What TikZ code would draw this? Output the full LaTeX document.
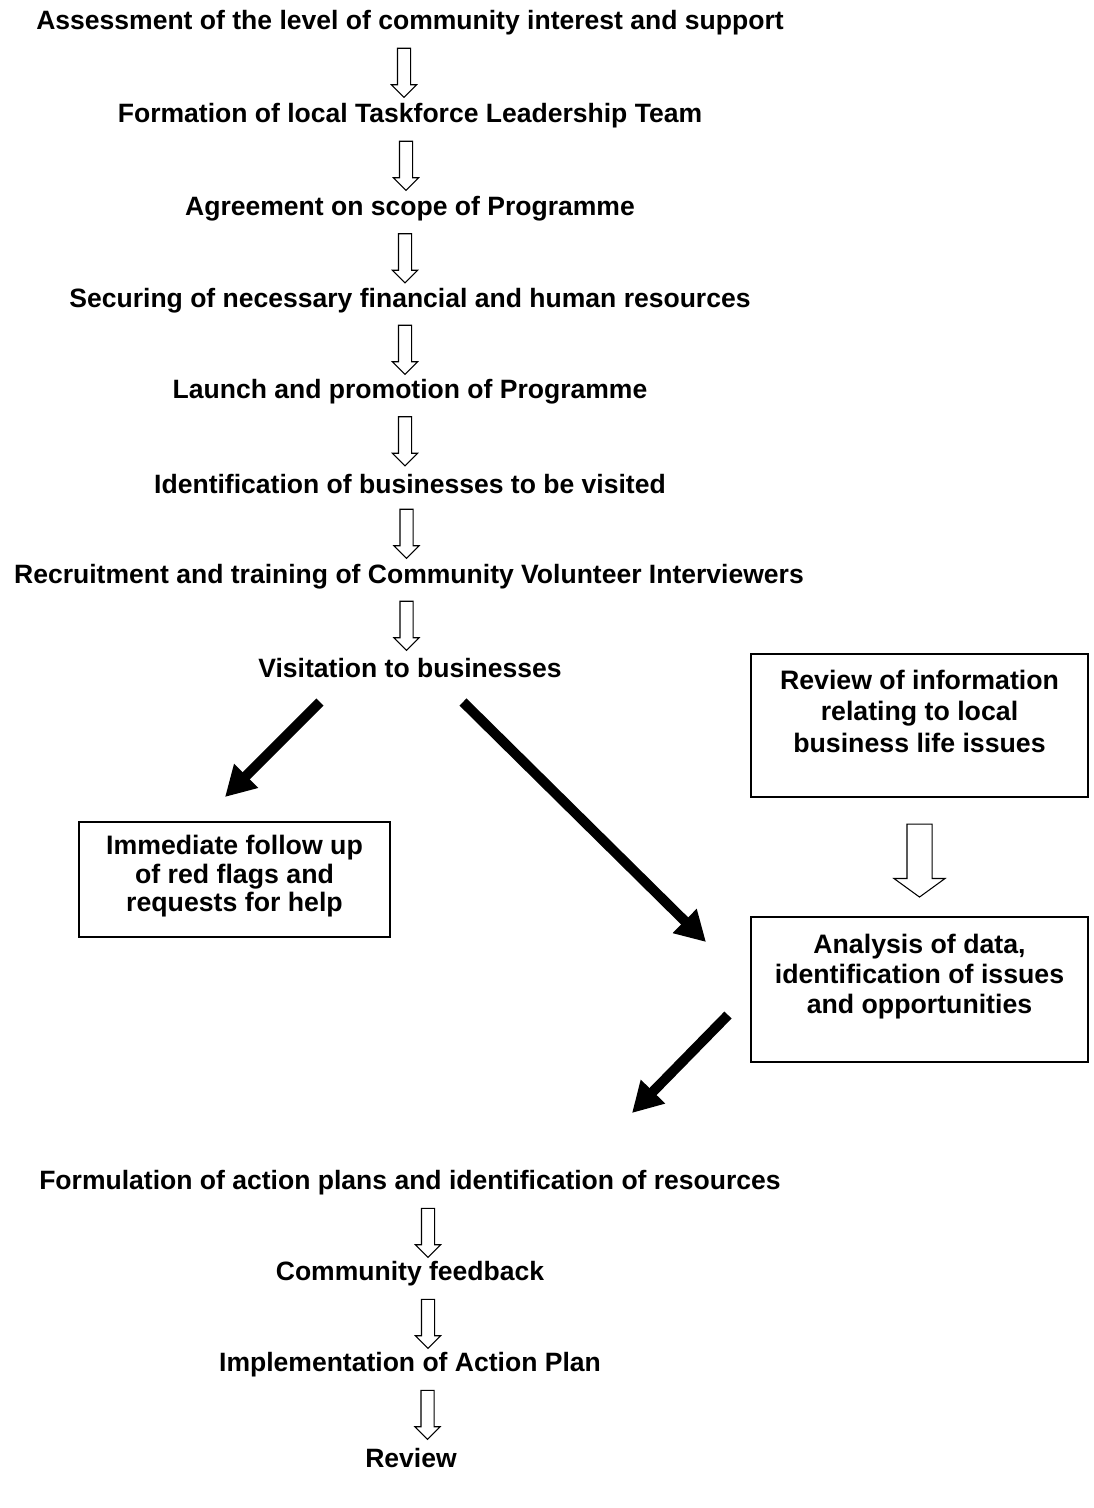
\documentclass[tikz,border=0pt]{standalone}
\usepackage{fontspec}
\setmainfont{Liberation Sans}
\usetikzlibrary{arrows.meta,shapes.arrows,calc}

\tikzset{
	stage/.style={font=\fontsize{15.1}{17}\selectfont\bfseries, inner sep=0pt},
	hollow/.style={single arrow, draw, semithick, rotate=-90, inner xsep=0pt, inner ysep=0.12cm,
		single arrow head extend=0.12cm, single arrow head indent=0pt, minimum height=0.98cm},
	bighollow/.style={hollow, inner ysep=0.24cm, single arrow head extend=0.26cm,
		single arrow tip angle=108, minimum height=1.46cm},
	blackarrow/.style={line width=0.2cm, -{Triangle[length=0.6cm,width=0.64cm]}},
	infobox/.style={draw, thick, inner sep=0pt, font=\fontsize{15.2}{17}\selectfont\bfseries}
}

\begin{document}
\begin{tikzpicture}[x=0.02cm,y=-0.02cm]
	
	\useasboundingbox (0,0) rectangle (1093,1508);
	
	% steps down the middle
	\node [stage] (assess) at (410,23) {Assessment of the level of community interest and support};
	\node [stage] (formation) at (410,116) {Formation of local Taskforce Leadership Team};
	\node [stage] (scope) at (410,209) {Agreement on scope of Programme};
	\node [stage] (securing) at (410,301) {Securing of necessary financial and human resources};
	\node [stage] (launch) at (410,392) {Launch and promotion of Programme};
	\node [stage] (identify) at (410,484) {Identification of businesses to be visited};
	\node [stage] (recruit) at (409,577) {Recruitment and training of Community Volunteer Interviewers};
	\node [stage] (visit) at (410,668) {Visitation to businesses};
	
	\node [hollow] (a1) at ($(assess)!0.5!(formation)+(-6,0)$) {};
	\node [hollow] (a2) at ($(formation)!0.5!(scope)+(-4,0)$) {};
	\node [hollow] (a3) at ($(scope)!0.5!(securing)+(-5,0)$) {};
	\node [hollow] (a4) at ($(securing)!0.5!(launch)+(-5,0)$) {};
	\node [hollow] (a5) at ($(launch)!0.5!(identify)+(-5,0)$) {};
	\node [hollow] (a6) at ($(identify)!0.5!(recruit)+(-3,0)$) {};
	\node [hollow] (a7) at ($(recruit)!0.5!(visit)+(-3,0)$) {};
	
	% boxes
	\node [infobox, font=\fontsize{15.2}{16.3}\selectfont\bfseries] (followup) at (234.5,879.5) {\parbox[c][2.3cm][t]{6.22cm}{\centering\vspace{0.26cm}Immediate follow up\\ of red flags and\\ requests for help}};
	\node [infobox, font=\fontsize{15.2}{18}\selectfont\bfseries] (review) at (919.5,725.5) {\parbox[c][2.86cm][t]{6.74cm}{\centering\vspace{0.32cm}Review of information\\ relating to local\\ business life issues}};
	\node [infobox] (analysis) at (919.5,989.5) {\parbox[c][2.9cm][t]{6.74cm}{\centering\vspace{0.34cm}Analysis of data,\\ identification of issues\\ and opportunities}};
	
	\node [bighollow] (a8) at ($(review.south)!0.5!(analysis.north)+(0,-1)$) {};
	
	% black arrows
	\coordinate (visitL) at (320,702);
	\coordinate (visitR) at (463,702);
	\coordinate (followupTop) at (225,797);
	\coordinate (analysisIn) at (706,942);
	\coordinate (analysisOut) at (728,1015);
	\coordinate (formulationTop) at (632,1113);
	
	\draw [blackarrow] (visitL) -- (followupTop);
	\draw [blackarrow] (visitR) -- (analysisIn);
	\draw [blackarrow] (analysisOut) -- (formulationTop);
	
	% last steps
	\node [stage] (formulate) at (410,1183) {Formulation of action plans and identification of resources};
	\node [stage] (feedback) at (410,1274) {Community feedback};
	\node [stage] (implement) at (410,1365) {Implementation of Action Plan};
	\node [stage] (review2) at (411,1458) {Review};
	
	\node [hollow] (b1) at ($(formulate)!0.5!(feedback)+(18,1)$) {};
	\node [hollow] (b2) at ($(feedback)!0.5!(implement)+(18,1)$) {};
	\node [hollow] (b3) at ($(implement)!0.5!(review2)+(17,0)$) {};
	
\end{tikzpicture}
\end{document}
